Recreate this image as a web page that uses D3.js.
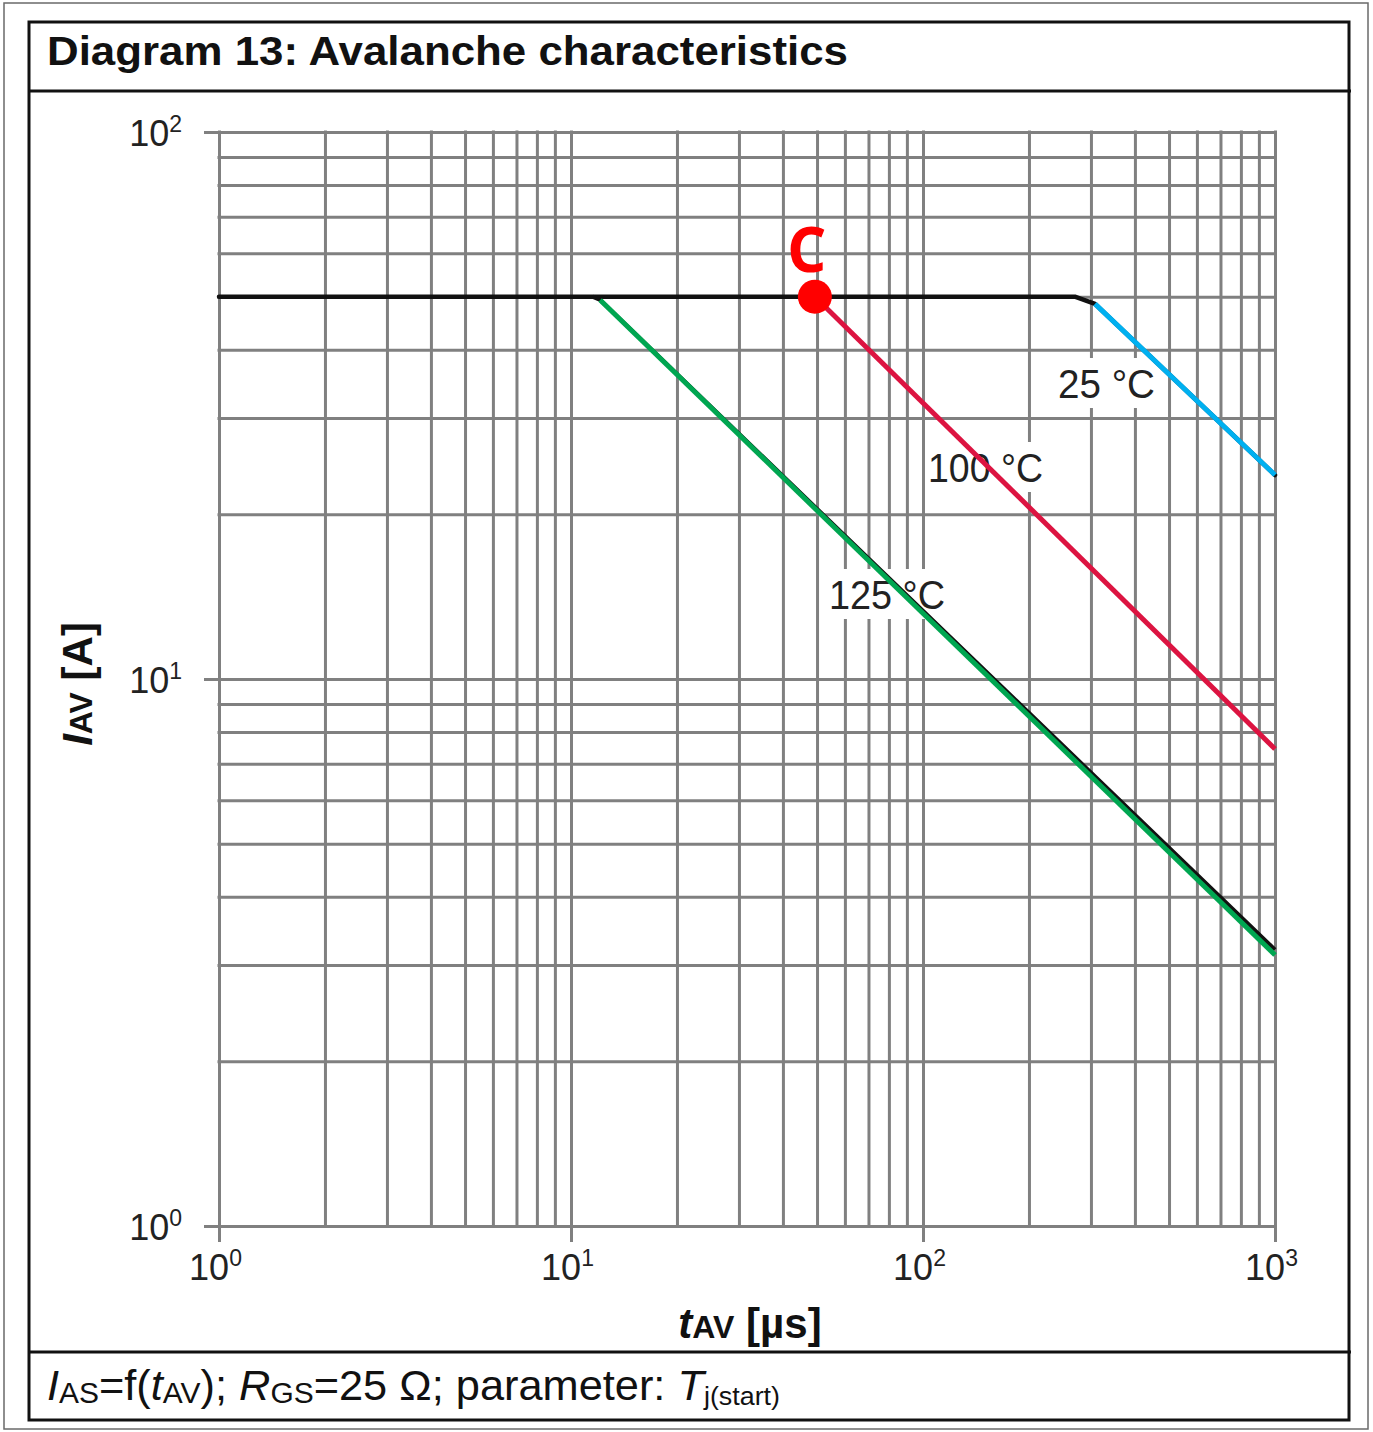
<!DOCTYPE html>
<html><head><meta charset="utf-8">
<script src="https://cdn.jsdelivr.net/npm/d3@7"></script>
<style>body{margin:0;background:#fff} text{font-family:"Liberation Sans",Arial,sans-serif}</style>
</head><body>
<svg id="chart" width="1373" height="1432"></svg>
<script>
// ---- data ----
const xMajor = [1, 10, 100, 1000];
const xExp = ["0", "1", "2", "3"];
const yMajor = [1, 10, 100];
const yExp = ["0", "1", "2"];
const curveNames = ["25 °C", "100 °C", "125 °C"];
const kneeT = [308, 49.3, 12.1];
const kneeI = [48.5, 50, 49.3];
const endT = [1000, 1000, 1000];
const endI = [23.6, 7.45, 3.13];
const blackPlateauT = [1, 270, 308, 1000];
const blackPlateauI = [50, 50, 48.5, 23.6];
const black125T = [11.5, 12.1, 1000];
const black125I = [50, 49.3, 3.2];
const pointC = {t: 49.3, i: 50, label: "C"};

// ---- styles ----
const curveColors = ["#00b0f0", "#dc1441", "#00a651"];
const gridColor = "#808080";

const svg = d3.select("#chart");
const x = d3.scaleLog().domain([1, 1000]).range([219, 1275]);
const y = d3.scaleLog().domain([1, 100]).range([1226, 132]);

// frames
svg.append("rect").attr("x", 4).attr("y", 3).attr("width", 1364).attr("height", 1426)
  .attr("fill", "none").attr("stroke", "#6a6a6a").attr("stroke-width", 1.5);
const frame = svg.append("g").attr("stroke", "#111").attr("stroke-width", 3);
frame.append("rect").attr("x", 29).attr("y", 22).attr("width", 1320).attr("height", 1398).attr("fill", "none");
frame.append("line").attr("x1", 29).attr("x2", 1351).attr("y1", 91).attr("y2", 91);
frame.append("line").attr("x1", 29).attr("x2", 1351).attr("y1", 1352).attr("y2", 1352);

// title
svg.append("text").attr("x", 47).attr("y", 65).attr("font-size", 40).attr("font-weight", "bold")
  .attr("textLength", 801).attr("lengthAdjust", "spacingAndGlyphs").attr("fill", "#111")
  .text("Diagram 13: Avalanche characteristics");

// grid
const xAll = x.ticks();
const yAll = y.ticks();
const gx = svg.append("g").attr("transform", "translate(0,1226)")
  .call(d3.axisBottom(x).tickValues(xAll).tickSize(-(1226 - 132)).tickFormat(""));
const gy = svg.append("g").attr("transform", "translate(219,0)")
  .call(d3.axisLeft(y).tickValues(yAll).tickSize(-(1275 - 219)).tickFormat(""));
[gx, gy].forEach(g => {
  g.select(".domain").remove();
  g.selectAll("line").attr("stroke", gridColor).attr("stroke-width", 3).attr("stroke-linecap", "square");
});

// major axes
const ax = svg.append("g").attr("transform", "translate(0,1226)")
  .call(d3.axisBottom(x).tickValues(xMajor).tickSize(16).tickFormat(""));
const ay = svg.append("g").attr("transform", "translate(219,0)")
  .call(d3.axisLeft(y).tickValues(yMajor).tickSize(15).tickFormat(""));
[ax, ay].forEach(g => {
  g.select(".domain").remove();
  g.selectAll("line").attr("stroke", gridColor).attr("stroke-width", 3);
});
ax.selectAll(".tick").each(function(d, i) {
  const t = d3.select(this).append("text").attr("x", -4).attr("y", 54)
    .attr("text-anchor", "middle").attr("fill", "#222").attr("font-size", 36);
  t.append("tspan").text("10");
  t.append("tspan").attr("font-size", 23).attr("dy", -14).text(xExp[i]);
});
ay.selectAll(".tick").each(function(d, i) {
  const t = d3.select(this).append("text").attr("x", -37).attr("y", 13)
    .attr("text-anchor", "end").attr("fill", "#222").attr("font-size", 36);
  t.append("tspan").text("10");
  t.append("tspan").attr("font-size", 23).attr("dy", -14).text(yExp[i]);
});

// axis titles
const xt = svg.append("text").attr("x", 750).attr("y", 1338).attr("text-anchor", "middle")
  .attr("font-weight", "bold").attr("font-size", 42).attr("fill", "#111");
xt.append("tspan").attr("font-style", "italic").text("t");
xt.append("tspan").attr("font-size", 32).text("AV");
xt.append("tspan").text(" [µs]");
const yt = svg.append("text").attr("transform", "translate(92,684) rotate(-90)").attr("text-anchor", "middle")
  .attr("font-weight", "bold").attr("font-size", 42).attr("fill", "#111");
yt.append("tspan").attr("font-style", "italic").text("I");
yt.append("tspan").attr("font-size", 32).text("AV");
yt.append("tspan").text(" [A]");

// caption
const cap = svg.append("text").attr("x", 47).attr("y", 1400).attr("font-size", 42).attr("fill", "#111")
  .attr("textLength", 733).attr("lengthAdjust", "spacingAndGlyphs");
cap.append("tspan").attr("font-style", "italic").text("I");
cap.append("tspan").attr("font-size", 29).attr("dy", 3).text("AS");
cap.append("tspan").attr("dy", -3).text("=f(");
cap.append("tspan").attr("font-style", "italic").text("t");
cap.append("tspan").attr("font-size", 29).attr("dy", 3).text("AV");
cap.append("tspan").attr("dy", -3).text("); ");
cap.append("tspan").attr("font-style", "italic").text("R");
cap.append("tspan").attr("font-size", 29).attr("dy", 3).text("GS");
cap.append("tspan").attr("dy", -3).text("=25 Ω; parameter: ");
cap.append("tspan").attr("font-style", "italic").text("T");
cap.append("tspan").attr("font-size", 26).attr("dy", 5).text("j(start)");

// curve labels (white background)
const labelPos = [[1058, 398, 97], [928, 482, 115], [829, 609, 116]];
curveNames.forEach((name, i) => {
  const [lx, ly, lw] = labelPos[i];
  svg.append("rect").attr("x", lx - 3).attr("y", ly - 40).attr("width", lw + 8).attr("height", 50).attr("fill", "#fff");
  svg.append("text").attr("x", lx).attr("y", ly).attr("font-size", 40).attr("fill", "#222")
    .attr("textLength", lw).attr("lengthAdjust", "spacingAndGlyphs").text(name);
});

// curves
const line = d3.line().x(d => x(d[0])).y(d => y(d[1]));
const zip = (a, b) => a.map((v, k) => [v, b[k]]);
svg.append("path").attr("d", line(zip(black125T, black125I))).attr("fill", "none").attr("stroke", "#111")
  .attr("stroke-width", 4).attr("stroke-linejoin", "round");
svg.append("path").attr("d", line(zip(blackPlateauT, blackPlateauI))).attr("fill", "none").attr("stroke", "#111")
  .attr("stroke-width", 4.5).attr("stroke-linejoin", "round").attr("stroke-linecap", "round");
curveNames.forEach((name, i) => {
  svg.append("path").attr("d", line([[kneeT[i], kneeI[i]], [endT[i], endI[i]]]))
    .attr("fill", "none").attr("stroke", curveColors[i]).attr("stroke-width", 5);
});

// point C
svg.append("circle").attr("cx", x(pointC.t)).attr("cy", y(pointC.i)).attr("r", 17).attr("fill", "#ff0000");
svg.append("text").attr("x", x(pointC.t) - 8).attr("y", y(pointC.i) - 25).attr("text-anchor", "middle")
  .attr("font-weight", "bold").attr("font-size", 62).attr("fill", "#ff0000")
  .style("font-family", "'Open Sans', sans-serif").text(pointC.label);
</script>
</body></html>
